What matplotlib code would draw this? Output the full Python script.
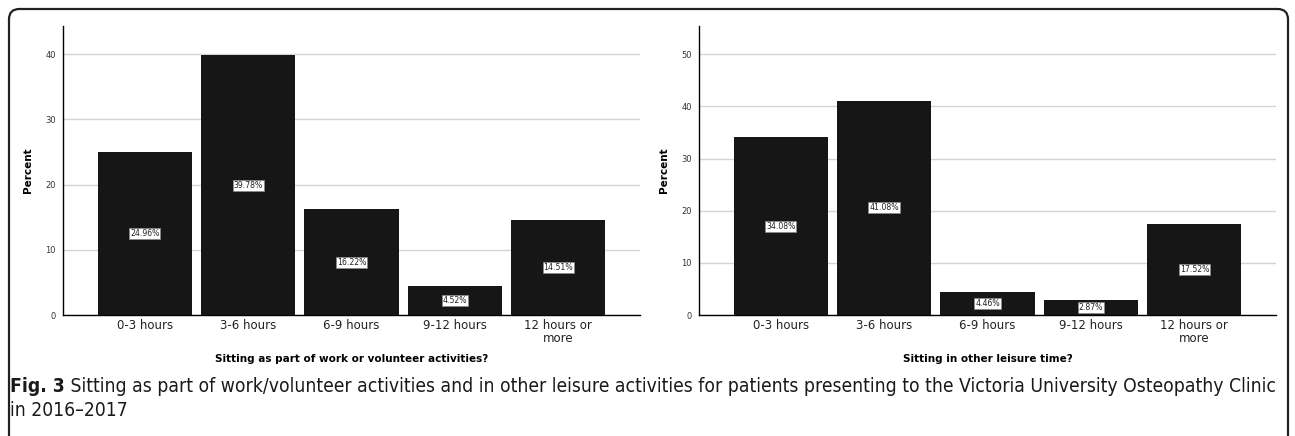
import numpy as np
import matplotlib
matplotlib.use("Agg")
import matplotlib.pyplot as plt
from matplotlib.patches import FancyBboxPatch

# data
categories = ["0-3 hours", "3-6 hours", "6-9 hours", "9-12 hours", "12 hours or\nmore"]
work_pct = [24.96, 39.78, 16.22, 4.52, 14.51]
leisure_pct = [34.08, 41.08, 4.46, 2.87, 17.52]
work_ticks = [0, 10, 20, 30, 40]
leisure_ticks = [0, 10, 20, 30, 40, 50]
work_title = "Sitting as part of work or volunteer activities?"
leisure_title = "Sitting in other leisure time?"
caption_bold = "Fig. 3"
caption_rest = (" Sitting as part of work/volunteer activities and in other leisure activities "
                "for patients presenting to the Victoria University Osteopathy Clinic")
caption_line2 = "in 2016\u20132017"

W, H = 1295, 436
fig = plt.figure(figsize=(W / 100, H / 100), dpi=100)

# rounded frame round the whole figure (bottom edge runs off the picture)
frame = FancyBboxPatch((9 / W, -20 / H), 1279 / W, (427 + 20) / H,
                       boxstyle="round,pad=0,rounding_size=0.008",
                       transform=fig.transFigure, fill=False, lw=1.6,
                       edgecolor="#222222", mutation_aspect=W / H)
fig.patches.append(frame)


def draw_panel(left, values, ticks, ymax, xlabel):
    ax = fig.add_axes([left / W, (H - 315) / H, 577 / W, 289 / H])
    x = np.arange(len(values))
    ax.bar(x, values, width=0.91, color="#161616", zorder=3)
    ax.set_xlim(-0.79, len(values) - 1 + 0.79)
    ax.set_ylim(0, ymax)
    ax.set_yticks(ticks)
    ax.set_yticklabels([str(t) for t in ticks], fontsize=6, color="#333333")
    ax.yaxis.grid(True, color="#d4d4d4", lw=1.0, zorder=0)
    ax.tick_params(length=0, pad=5)
    ax.set_xticks(x)
    ax.set_xticklabels(categories, fontsize=8.5, linespacing=0.95, color="#222222")
    ax.tick_params(axis="x", pad=3)
    for s in ["top", "right"]:
        ax.spines[s].set_visible(False)
    ax.spines["left"].set_linewidth(1.0)
    ax.spines["bottom"].set_linewidth(1.0)
    ax.set_ylabel("Percent", fontsize=7.5, fontweight="bold", labelpad=9)
    ax.set_xlabel(xlabel, fontsize=7.5, fontweight="bold", labelpad=7)
    for xi, v in zip(x, values):
        ax.text(xi, v / 2, f"{v:.2f}%", ha="center", va="center", fontsize=5.6,
                color="#222222", zorder=4,
                bbox=dict(boxstyle="square,pad=0.12", fc="white", ec="#888888", lw=0.5))
    return ax


draw_panel(63, work_pct, work_ticks, 44.3, work_title)
draw_panel(699, leisure_pct, leisure_ticks, 55.4, leisure_title)

# caption
cap = dict(fontsize=12, family="DejaVu Sans", fontstretch="condensed",
           va="baseline", color="#1a1a1a")
t1 = fig.text(10 / W, 1 - 392 / H, caption_bold, fontweight="bold", **cap)
fig.canvas.draw()
bb = t1.get_window_extent()
t2 = fig.text(bb.x1 / W, 1 - 392 / H, caption_rest, **cap)
fig.text(10 / W, 1 - 416 / H, caption_line2, **cap)

# stretch the caption to the width it takes in the reference
fig.canvas.draw()
right = t2.get_window_extent().x1
scale = (1278 - 10) / (right - 10)
if abs(scale - 1) > 0.02:
    for t in fig.texts:
        t.set_fontsize(12 * scale)
    fig.canvas.draw()
    t2.set_x(t1.get_window_extent().x1 / W)

fig.savefig("out.png", dpi=100)
